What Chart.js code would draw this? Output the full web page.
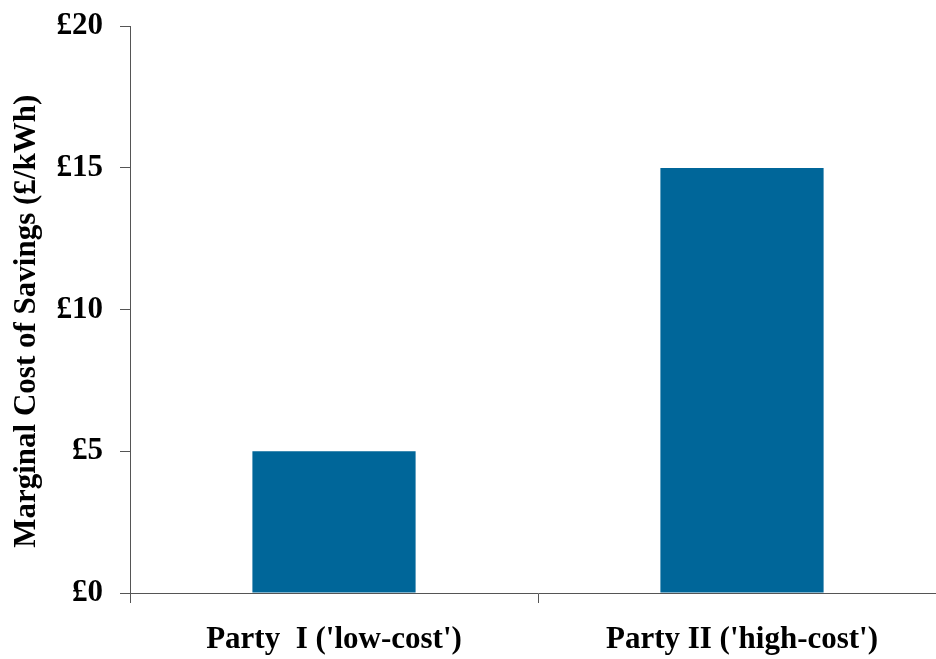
<!DOCTYPE html>
<html>
<head>
<meta charset="utf-8">
<script src="https://cdn.jsdelivr.net/npm/chart.js@4.4.0/dist/chart.umd.min.js"></script>
<style>
  html, body { margin: 0; padding: 0; background: #fff; overflow: hidden; }
  canvas { display: block; }
</style>
</head>
<body>
<canvas id="chart" width="960" height="659"></canvas>
<script>
// categories and values
var parties = ["Party  I ('low-cost')", "Party II ('high-cost')"];
var marginalCost = [5, 15];
var yTicks = [0, 5, 10, 15, 20];

var barColour = '#006699';
var axisColour = '#555555';
var serif = "'Liberation Serif', 'Times New Roman', serif";

var ctx = document.getElementById("chart");
var chartGraph = new Chart(ctx, {
    type: 'bar',
    data: {
        labels: parties,
        datasets: [{
            label: "Marginal Cost of Savings",
            data: marginalCost,
            backgroundColor: barColour,
            borderWidth: 0,
            barPercentage: 0.4,
            categoryPercentage: 1.0
        }]
    },
    options: {
        responsive: false,
        animation: false,
        layout: {
            padding: { top: 23, right: 14, bottom: 0, left: 0 }
        },
        plugins: {
            legend: { display: false },
            tooltip: { enabled: false }
        },
        scales: {
            x: {
                offset: true,
                afterFit: function(scale) { scale.height = 66; },
                border: { display: true, color: axisColour, width: 1 },
                grid: {
                    offset: true,
                    drawOnChartArea: false,
                    drawTicks: true,
                    tickLength: 10,
                    color: axisColour
                },
                ticks: {
                    color: '#000',
                    padding: 18,
                    maxRotation: 0,
                    font: { family: serif, size: 31, weight: 'bold' }
                }
            },
            y: {
                min: 0,
                max: 20,
                afterFit: function(scale) { scale.width = 130; },
                afterBuildTicks: function(scale) {
                    scale.ticks = yTicks.map(function(v) { return { value: v }; });
                },
                border: { display: true, color: axisColour, width: 1 },
                grid: {
                    drawOnChartArea: false,
                    drawTicks: true,
                    tickLength: 10,
                    color: axisColour
                },
                ticks: {
                    color: '#000',
                    padding: 17,
                    font: { family: serif, size: 31, weight: 'bold', lineHeight: 0.6 },
                    callback: function(v) { return '£' + v; }
                },
                title: {
                    display: true,
                    // trailing spaces nudge the rotated title down a little
                    text: 'Marginal Cost of Savings (£/kWh)   ',
                    color: '#000',
                    padding: { top: 8, bottom: 4 },
                    font: { family: serif, size: 31, weight: 'bold' }
                }
            }
        }
    }
});
</script>
</body>
</html>
